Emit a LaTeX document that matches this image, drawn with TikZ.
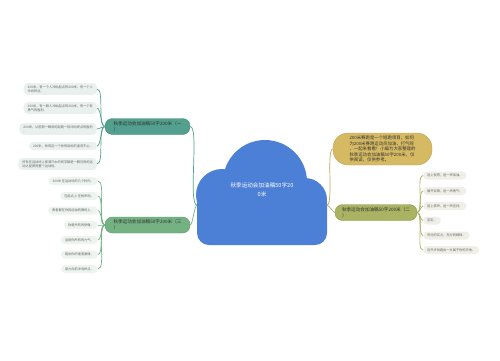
\documentclass[tikz,border=0pt]{standalone}
\usepackage{fontspec}
\setmainfont{Noto Sans CJK SC}
\definecolor{cloudc}{HTML}{4C80D6}
\definecolor{tealc}{HTML}{52A08D}
\definecolor{greenc}{HTML}{74B283}
\definecolor{goldc}{HTML}{D6BA63}
\definecolor{olivec}{HTML}{AAB361}
\definecolor{leafA}{HTML}{E9F0EE}
\definecolor{leafB}{HTML}{EDF3EE}
\definecolor{leafC}{HTML}{EFEFE7}
\definecolor{leaftxt}{HTML}{666666}
\begin{document}
\begin{tikzpicture}[x=1pt,y=-1pt,
  every node/.style={inner sep=0pt},
  conn/.style={line width=0.7pt},
  lkl/.style={out=180,in=0,looseness=0.5},
  lkr/.style={out=0,in=180,looseness=0.5},
  branch/.style={rounded corners=7.5pt, minimum height=16pt, align=left,
    font=\fontsize{4.6}{5.7}\selectfont, text=black!80, line width=0.4pt},
  leaf/.style={rounded corners=4pt, align=left, font=\fontsize{3.2}{4.2}\selectfont,
    text=leaftxt, inner xsep=4pt, inner ysep=2.3pt, minimum height=8pt},
]
\fill[white] (0,0) rectangle (500,360);
\useasboundingbox (0,0) rectangle (500,360);

% cloud
\fill[cloudc, rounded corners=12pt] (197,192) rectangle (327,245);
\fill[cloudc] (222,195) circle[radius=26pt];
\fill[cloudc] (265,182) circle[radius=42pt];
\fill[cloudc] (305,200) circle[radius=22pt];
\node[text=white, font=\fontsize{5.6}{9}\selectfont, align=center] (root) at (262,190) {秋季运动会加油稿50字20\\0米};
\coordinate (cl) at (197,205);
\coordinate (cr) at (327,205);

% branch nodes
\node[branch, fill=tealc, draw=tealc!85!black, minimum width=85pt] (b1) at (147.5,126.5) {秋季运动会加油稿50字200米（一\\）};
\node[branch, fill=greenc, draw=greenc!85!black, minimum width=85pt] (b3) at (147.5,225) {秋季运动会加油稿50字200米（三\\）};
\node[fill=goldc, draw=goldc!90!black, line width=0.4pt, minimum width=99pt, minimum height=32pt, rounded corners=15pt, align=left,
  font=\fontsize{4.4}{5.6}\selectfont, text=black!80] (b2) at (382.5,149)
  {200米赛跑是一个短跑项目，如何\\为200米赛跑运动员加油，打气呢\\，一起来看看！小编为大家整理的\\秋季运动会加油稿50字200米，仅\\供阅读，仅供参考。};
\node[branch, fill=olivec, draw=olivec!85!black, minimum width=82pt] (b4) at (376,212.5) {秋季运动会加油稿50字200米（二\\）};

% cloud to branches
\draw[conn, tealc] (b1.east) to[lkr, looseness=0.3] (cl);
\draw[conn, greenc] (b3.east) to[lkr, looseness=0.3] (cl);
\draw[conn, goldc!90!black] (cr) to[lkr, looseness=0.3] (b2.west);
\draw[conn, olivec] (cr) to[lkr, looseness=0.3] (b4.west);

% upper-left leaves
\node[leaf, fill=leafA, anchor=east] (a1) at (97,89) {200米，有一个人冲出起点的200米，有一个人\\冲向终点。};
\node[leaf, fill=leafA, anchor=east] (a2) at (97,108) {200米，有一群人冲出起点的200米，有一个有\\勇气的胜利。};
\node[leaf, fill=leafA, anchor=east] (a3) at (97,129) {200米，从前那一瞬间的起跑一刻冲向终点的胜利\\。};
\node[leaf, fill=leafA, anchor=east] (a4) at (97,146) {200米，你有这一个你的目标的追求不止。};
\node[leaf, fill=leafA, anchor=east] (a5) at (97,164) {所有在运动场上挥洒汗水的同学都是一颗闪亮的运\\动之星照亮整个运动场。};
\foreach \n in {a1,a2,a3,a4,a5}
  \draw[conn, tealc] (b1.west) to[lkl] (\n.east);

% lower-left leaves
\node[leaf, fill=leafB, anchor=east] (c1) at (98,181) {200米 在运动场的几个秒内。};
\node[leaf, fill=leafB, anchor=east] (c2) at (98,196) {在起点上 在枪声响。};
\node[leaf, fill=leafB, anchor=east] (c3) at (98,210.5) {勇者都在你我加油的赛场上。};
\node[leaf, fill=leafB, anchor=east] (c4) at (98,225) {你是所有的骄傲。};
\node[leaf, fill=leafB, anchor=east] (c5) at (98,240) {运用你所有的力气。};
\node[leaf, fill=leafB, anchor=east] (c6) at (98,254.5) {跑出你的速度激情。};
\node[leaf, fill=leafB, anchor=east] (c7) at (98,269) {奋力向前冲向终点。};
\foreach \n in {c1,c2,c3,c4,c5,c6,c7}
  \draw[conn, greenc] (b3.west) to[lkl] (\n.east);

% right leaves
\node[leaf, fill=leafC, anchor=west] (r1) at (423,175.5) {送上祝愿，送一声加油。};
\node[leaf, fill=leafC, anchor=west] (r2) at (423,191) {展开双臂，送一声勇气。};
\node[leaf, fill=leafC, anchor=west] (r3) at (423,206) {送上掌声，送一声坚持。};
\node[leaf, fill=leafC, anchor=west] (r4) at (423,220.5) {坚定。};
\node[leaf, fill=leafC, anchor=west] (r5) at (423,235.5) {充分的实力，充分的精神。};
\node[leaf, fill=leafC, anchor=west] (r6) at (423,250) {迈开步伐跑出一片属于你的天地。};
\foreach \n in {r1,r2,r3,r4,r5,r6}
  \draw[conn, olivec] (b4.east) to[lkr] (\n.west);
\end{tikzpicture}
\end{document}
